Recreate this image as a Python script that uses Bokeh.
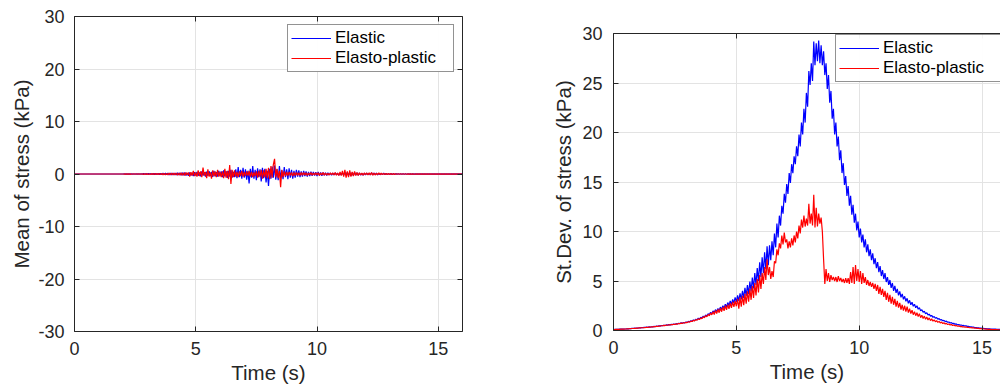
import numpy as np
from bokeh.plotting import figure
from bokeh.models import Legend, LegendItem, Range1d, LinearAxis
from bokeh.layouts import row
from bokeh.embed import file_html
from bokeh.resources import INLINE

# Sampling interval of the recorded series (s)
DT = 0.05

# Mean of stress (kPa) - elastic model
E_mean = [0.0] * 41 + [
    0.02, -0.02, 0.03, -0.03, 0.03, -0.02, 0.04, -0.04, 0.05, -0.04, 0.05, -0.05, 0.06, -0.05, 0.06, -0.06, 0.07, -0.06, 0.07, -0.07,
    0.08, -0.07, 0.09, -0.08, 0.10, -0.09, 0.10, -0.10, 0.12, -0.10, 0.13, -0.12, 0.14, -0.12, 0.15, -0.14, 0.16, -0.15, 0.18, -0.16,
    0.18, -0.17, 0.20, -0.18, 0.22, -0.20, 0.24, -0.22, 0.26, -0.25, 0.30, -0.28, 0.20, -0.35, 0.30, -0.30, 0.25, -0.40, 0.35, -0.30,
    0.40, -0.35, 0.30, -0.45, 0.50, -0.30, 0.35, -0.50, 0.45, -0.35, 0.55, -0.40, 0.40, -0.55, 0.60, -0.45, 0.35, -0.50, 0.60, -0.40,
    0.50, -0.60, 0.70, -0.45, 0.55, -0.75, 0.60, -0.50, 0.80, -0.70, 0.40, -0.60, 0.90, -0.80, 1.30, -0.60, 0.80, -0.90, 1.20, -0.70,
    0.90, -1.10, 0.60, -1.80, 1.00, -0.70, 1.50, -0.90, 0.80, -1.20, 1.10, -0.60, 0.90, -1.40, 1.20, -0.80, 1.00, -1.60, 0.60, -2.30,
    1.00, -0.90, 1.40, -0.70, 1.60, -1.10, 0.90, -1.20, 1.50, -0.80, 0.70, -1.00, 1.30, -0.60, 0.90, -1.00, 1.10, -0.70, 0.80, -0.90,
    0.60, -0.70, 0.80, -0.50, 0.70, -0.60, 0.50, -0.50, 0.60, -0.40, 0.50, -0.50, 0.40, -0.40, 0.45, -0.35, 0.40, -0.30, 0.35, -0.40,
    0.40, -0.30, 0.30, -0.35, 0.30, -0.25, 0.25, -0.30, 0.25, -0.20, 0.20, -0.25, 0.20, -0.20, 0.20, -0.15, 0.15, -0.20, 0.15, -0.15,
    0.20, -0.20, 0.30, -0.25, 0.35, -0.30, 0.30, -0.35, 0.25, -0.30, 0.30, -0.20, 0.25, -0.25, 0.20, -0.20, 0.15, -0.20, 0.15, -0.15,
    0.15, -0.12, 0.12, -0.15, 0.20, -0.15, 0.18, -0.12, 0.15, -0.15, 0.12, -0.12, 0.10, -0.12, 0.15, -0.10, 0.10, -0.10, 0.08, -0.10,
    0.10, -0.08, 0.08, -0.08, 0.07, -0.06, 0.06, -0.06, 0.05, -0.05, 0.05, -0.04, 0.04, -0.04, 0.04, -0.03, 0.03, -0.03, 0.03, -0.03,
    0.03, -0.02, 0.02, -0.02, 0.02, -0.02, 0.02, -0.02, 0.02, -0.01,
] + [0.01, -0.01] * 15

# Mean of stress (kPa) - elasto-plastic model
P_mean = [0.0] * 41 + [
    -0.02, 0.02, -0.03, 0.03, -0.03, 0.02, -0.04, 0.04, -0.05, 0.04, -0.05, 0.05, -0.06, 0.05, -0.06, 0.06, -0.07, 0.06, -0.07, 0.07,
    -0.08, 0.07, -0.09, 0.08, -0.10, 0.09, -0.10, 0.10, -0.12, 0.10, -0.13, 0.12, -0.14, 0.12, -0.15, 0.14, -0.16, 0.15, -0.18, 0.16,
    -0.18, 0.17, -0.20, 0.18, -0.22, 0.20, -0.24, 0.22, -0.26, 0.25, -0.30, 0.28, -0.20, 0.30, -0.50, 0.35, -0.30, 0.60, -0.40, 0.30,
    -0.50, 0.70, -0.40, 0.50, -0.60, 1.20, -0.30, 0.40, -0.80, 0.90, -0.50, 0.30, -0.90, 0.70, -0.40, 0.50, -0.60, 0.80, -0.50, 0.40,
    -0.60, 0.50, -0.80, 1.00, -0.70, 0.60, -1.00, 1.70, -1.90, 0.80, -0.60, 0.70, -0.50, 0.40, -0.60, 0.50, -0.40, 0.60, -0.50, 0.40,
    -0.40, 0.50, -0.30, 0.60, -0.50, 0.40, -0.60, 0.30, -0.40, 0.50, -0.70, 0.60, -0.50, 0.80, -0.90, 0.70, -0.60, 1.00, -0.80, 1.20,
    -1.00, 1.50, -0.70, 1.80, 2.90, -0.60, 1.00, -0.80, 0.60, -2.50, 0.80, -0.60, 0.50, -0.40, 0.40, -0.30, 0.40, -0.30, 0.30, -0.40,
    0.30, -0.30, 0.30, -0.25, 0.25, -0.30, 0.30, -0.25, 0.30, -0.20, 0.25, -0.30, 0.20, -0.20, 0.30, -0.25, 0.20, -0.20, 0.25, -0.20,
    0.25, -0.30, 0.20, -0.20, 0.30, -0.25, 0.20, -0.20, 0.15, -0.20, 0.20, -0.15, 0.20, -0.20, 0.30, -0.25, 0.20, -0.30, 0.40, -0.30,
    0.60, -0.50, 0.80, -0.70, 0.50, -0.60, 0.70, -0.50, 0.40, -0.40, 0.50, -0.30, 0.30, -0.30, 0.25, -0.20, 0.20, -0.25, 0.20, -0.15,
    0.20, -0.20, 0.25, -0.20, 0.30, -0.25, 0.20, -0.20, 0.15, -0.15, 0.20, -0.15, 0.15, -0.12, 0.12, -0.10, 0.10, -0.10, 0.08, -0.08,
    0.08, -0.08, 0.07, -0.07, 0.06, -0.06, 0.06, -0.05, 0.05, -0.05, 0.04, -0.04, 0.04, -0.04, 0.03, -0.03, 0.03, -0.03, 0.03, -0.03,
    -0.03, 0.02, -0.02, 0.02, -0.02, 0.02, -0.02, 0.02, -0.02, 0.01,
] + [-0.01, 0.01] * 15

# Standard deviation of stress (kPa) - elastic model
E_std = [
    0.10, 0.11, 0.11, 0.12, 0.12, 0.13, 0.13, 0.14, 0.14, 0.15, 0.15, 0.17, 0.17, 0.19, 0.19, 0.21, 0.21, 0.23, 0.23, 0.25, 0.25,
    0.27, 0.27, 0.30, 0.29, 0.32, 0.31, 0.34, 0.33, 0.36, 0.35, 0.38, 0.37, 0.41, 0.40, 0.44, 0.43, 0.47, 0.46, 0.50, 0.49,
    0.53, 0.51, 0.56, 0.54, 0.59, 0.57, 0.62, 0.60, 0.66, 0.63, 0.69, 0.66, 0.73, 0.70, 0.77, 0.74, 0.81, 0.77, 0.86, 0.82,
    0.92, 0.88, 0.99, 0.94, 1.06, 1.00, 1.14, 1.08, 1.24, 1.16, 1.34, 1.26, 1.45, 1.36, 1.57, 1.47, 1.70, 1.58, 1.84, 1.70,
    1.98, 1.82, 2.10, 1.92, 2.22, 2.02, 2.36, 2.12, 2.50, 2.24, 2.66, 2.36, 2.82, 2.50, 2.98, 2.62, 3.15, 2.76, 3.35, 2.90,
    3.55, 3.00, 3.75, 3.15, 4.00, 3.30, 4.30, 3.50, 4.60, 3.70, 4.95, 3.95, 5.35, 4.25, 5.80, 4.60, 6.30, 5.00, 6.90, 5.40,
    7.40, 5.80, 7.90, 6.20, 8.50, 6.60, 8.60, 7.10, 9.00, 7.60,
    9.80, 8.40, 10.80, 9.40, 11.60, 10.60, 12.60, 11.80, 13.80, 12.90,
    14.80, 13.80, 15.90, 14.90, 16.80, 15.90, 17.60, 16.80, 18.60, 17.60,
    19.80, 18.60, 21.00, 19.80, 22.40, 21.00, 24.00, 22.60, 26.20, 24.80,
    27.00, 25.20, 29.20, 26.80, 29.00, 27.20, 29.30, 27.00, 28.80, 26.80,
    28.20, 25.80, 27.00, 24.40, 25.80, 23.00, 24.20, 21.40, 22.40, 19.80,
    21.00, 18.60, 19.60, 17.20, 18.20, 15.90, 16.90, 14.70, 15.60, 13.60,
    14.60, 12.60, 13.60, 11.70, 12.70, 10.90, 11.80, 10.10, 11.00, 9.40,
    10.30, 8.90, 9.70, 8.40, 9.20, 7.90, 8.70, 7.50, 8.20, 7.10,
    7.80, 6.70, 7.30, 6.30, 6.90, 5.90, 6.50, 5.50, 6.10, 5.20,
    5.80, 4.90, 5.40, 4.60, 5.10, 4.30, 4.80, 4.00, 4.50, 3.80,
    4.20, 3.55, 3.95, 3.35, 3.70, 3.15, 3.45, 2.95, 3.25, 2.75,
    3.05, 2.60, 2.85, 2.45, 2.65, 2.30, 2.50, 2.15, 2.30, 2.00,
    2.10, 1.85, 1.95, 1.70, 1.80, 1.58, 1.65, 1.45, 1.52, 1.33,
    1.40, 1.24, 1.30, 1.15, 1.20, 1.06, 1.10, 0.98, 1.02, 0.90, 0.94, 0.83, 0.86, 0.76, 0.79, 0.70, 0.72, 0.64, 0.66, 0.58,
    0.60, 0.54, 0.55, 0.50, 0.51, 0.46, 0.47, 0.42, 0.43, 0.38, 0.38, 0.34, 0.34, 0.30, 0.30, 0.27, 0.27, 0.24, 0.24, 0.21,
    0.21, 0.19, 0.19, 0.17, 0.17, 0.16, 0.15, 0.14, 0.14, 0.13, 0.13, 0.12, 0.12, 0.11, 0.11, 0.10, 0.10, 0.09, 0.09, 0.08,
]

# Standard deviation of stress (kPa) - elasto-plastic model
P_std = [
    0.10, 0.10, 0.11, 0.11, 0.12, 0.12, 0.13, 0.13, 0.14, 0.14, 0.15, 0.16, 0.16, 0.18, 0.18, 0.20, 0.20, 0.22, 0.22, 0.24, 0.24,
    0.26, 0.26, 0.28, 0.28, 0.30, 0.30, 0.32, 0.32, 0.34, 0.34, 0.36, 0.36, 0.39, 0.39, 0.42, 0.42, 0.45, 0.45, 0.48, 0.48,
    0.51, 0.50, 0.54, 0.53, 0.57, 0.56, 0.60, 0.59, 0.63, 0.62, 0.66, 0.65, 0.70, 0.69, 0.74, 0.72, 0.78, 0.76, 0.82, 0.80,
    0.88, 0.85, 0.95, 0.91, 1.02, 0.97, 1.10, 1.04, 1.18, 1.11, 1.27, 1.19, 1.38, 1.28, 1.50, 1.38, 1.62, 1.48, 1.76, 1.58,
    1.90, 1.62, 2.02, 1.72, 2.14, 1.80, 2.25, 1.90, 2.36, 1.98, 2.50, 2.08, 2.62, 2.18, 2.75, 2.28, 2.88, 2.38, 3.00, 2.45,
    3.20, 2.20, 3.35, 2.40, 3.50, 2.55, 3.70, 2.70, 3.95, 2.90, 4.20, 3.10, 4.50, 3.30, 4.80, 3.55, 5.20, 3.85, 5.60, 4.20,
    5.80, 4.70, 6.40, 5.10, 7.20, 5.60, 6.40, 5.20, 6.00, 5.40,
    7.00, 6.80, 8.20, 7.60, 8.80, 8.30, 9.60, 8.70, 9.90, 8.90,
    9.20, 8.30, 9.00, 8.40, 9.30, 8.60, 9.60, 8.90, 10.00, 9.30,
    10.60, 9.80, 11.20, 10.40, 11.60, 10.50, 11.30, 10.60, 12.80, 10.80,
    11.80, 10.60, 13.70, 10.40, 12.40, 10.50, 11.80, 10.80, 11.40, 10.00,
    7.20, 4.70, 6.20, 5.00, 5.80, 4.90, 5.60, 5.10, 5.40, 5.00,
    5.40, 4.90, 5.50, 5.00, 5.30, 4.90, 5.20, 4.80, 5.30, 4.80,
    5.30, 4.70, 5.90, 4.80, 6.40, 4.70, 6.60, 5.00, 6.20, 4.90,
    6.00, 4.70, 5.80, 4.80, 5.40, 4.60, 5.10, 4.50, 4.90, 4.40,
    4.80, 4.20, 4.70, 4.00, 4.60, 3.70, 4.40, 3.60, 4.20, 3.40,
    4.00, 3.10, 3.80, 2.90, 3.60, 2.70, 3.40, 2.60, 3.20, 2.40,
    3.00, 2.30, 2.80, 2.10, 2.60, 2.00, 2.50, 1.90, 2.40, 1.80,
    2.20, 1.70, 2.05, 1.60, 1.90, 1.50, 1.80, 1.40, 1.70, 1.30,
    1.55, 1.22, 1.45, 1.14, 1.36, 1.06, 1.27, 1.00, 1.18, 0.94,
    1.08, 0.88, 1.00, 0.82, 0.92, 0.76, 0.85, 0.70, 0.78, 0.65, 0.72, 0.60, 0.66, 0.55, 0.61, 0.51, 0.56, 0.47, 0.51, 0.43,
    0.46, 0.40, 0.42, 0.37, 0.38, 0.34, 0.35, 0.31, 0.32, 0.28, 0.29, 0.26, 0.26, 0.23, 0.24, 0.21, 0.21, 0.19, 0.19, 0.17,
    0.16, 0.15, 0.14, 0.13, 0.12, 0.11, 0.11, 0.10, 0.09, 0.09, 0.08, 0.08, 0.07, 0.07, 0.06, 0.06, 0.06, 0.05, 0.05, 0.05,
]

X_TICKS = [0, 5, 10, 15]
Y_TICKS_MEAN = [-30, -20, -10, 0, 10, 20, 30]
Y_TICKS_STD = [0, 5, 10, 15, 20, 25, 30]
SERIES_NAMES = ["Elastic", "Elasto-plastic"]
COLORS = ["#0000ff", "#ff0000"]

FONT = "Liberation Sans"
AXIS_COLOR = "#262626"
GRID_COLOR = "#e3e3e3"
TICK_PX = 5


def sample_times(values):
    return np.arange(len(values)) * DT


def style_axis(ax, ticks, labelled=True):
    ax.ticker = ticks
    ax.axis_line_color = AXIS_COLOR
    ax.major_tick_line_color = AXIS_COLOR
    ax.major_tick_in = TICK_PX
    ax.major_tick_out = 0
    ax.minor_tick_in = 0
    ax.minor_tick_out = 0
    ax.major_label_text_font = FONT
    ax.axis_label_text_font = FONT
    ax.axis_label_text_font_style = "normal"
    ax.axis_label_text_color = AXIS_COLOR
    ax.axis_label_text_font_size = "20.5px"
    if labelled:
        # plain hyphen for negative tick labels
        ax.major_label_overrides = {t: str(t) for t in ticks if t < 0}
        ax.major_label_text_font_size = "18px"
        ax.major_label_text_color = AXIS_COLOR
    else:
        # box edge with ticks only
        ax.major_label_text_font_size = "1px"
        ax.major_label_text_color = None
        ax.major_label_standoff = 0


def make_panel(width, height, borders, x_end, y_range, y_ticks, y_label,
               y_series, legend_xy, y_standoffs, right_edge=True):
    left, right, top, bottom = borders
    p = figure(width=width, height=height, output_backend="svg", toolbar_location=None,
               x_range=Range1d(0, x_end), y_range=Range1d(*y_range),
               min_border_left=left, min_border_right=right,
               min_border_top=top, min_border_bottom=bottom,
               frame_align=False,
               background_fill_color="white", border_fill_color="white")
    p.outline_line_color = None

    style_axis(p.xaxis[0], X_TICKS)
    style_axis(p.yaxis[0], y_ticks)
    p.xaxis.axis_label = "Time (s)"
    p.yaxis.axis_label = y_label
    p.xaxis.major_label_standoff = 10
    p.xaxis.axis_label_standoff = 3
    p.yaxis.major_label_standoff = y_standoffs[0]
    p.yaxis.axis_label_standoff = y_standoffs[1]

    top_ax = LinearAxis()
    style_axis(top_ax, X_TICKS, labelled=False)
    p.add_layout(top_ax, "above")
    if right_edge:
        right_ax = LinearAxis()
        style_axis(right_ax, y_ticks, labelled=False)
        p.add_layout(right_ax, "right")

    p.xgrid.ticker = X_TICKS
    p.ygrid.ticker = y_ticks
    p.xgrid.grid_line_color = GRID_COLOR
    p.ygrid.grid_line_color = GRID_COLOR

    items = []
    for name, color, ys in zip(SERIES_NAMES, COLORS, y_series):
        r = p.line(sample_times(ys), ys, line_color=color, line_width=1.2)
        items.append(LegendItem(label=name, renderers=[r]))

    legend = Legend(items=items, location=legend_xy)
    legend.label_text_font = FONT
    legend.label_text_font_size = "17px"
    legend.label_text_color = "black"
    legend.border_line_color = AXIS_COLOR
    legend.border_line_width = 1
    legend.background_fill_color = "white"
    legend.padding = 3
    legend.spacing = 0
    legend.margin = 0
    legend.glyph_width = 40
    legend.glyph_height = 20
    legend.label_height = 20
    legend.label_standoff = 4
    legend.label_width = 115
    p.add_layout(legend, "center")
    return p


p_mean = make_panel(520, 390, (74, 58, 16, 59), 16, (-30, 30), Y_TICKS_MEAN,
                    "Mean of stress (kPa)", [E_mean, P_mean], (213, 259), (10, 2))
p_std = make_panel(480, 390, (93, 0, 33, 60), 15.75, (0, 30), Y_TICKS_STD,
                   "St.Dev. of stress (kPa)", [E_std, P_std], (222, 248), (11, 4),
                   right_edge=False)

layout = row(p_mean, p_std)
open("out.html", "w").write(file_html(layout, INLINE))
